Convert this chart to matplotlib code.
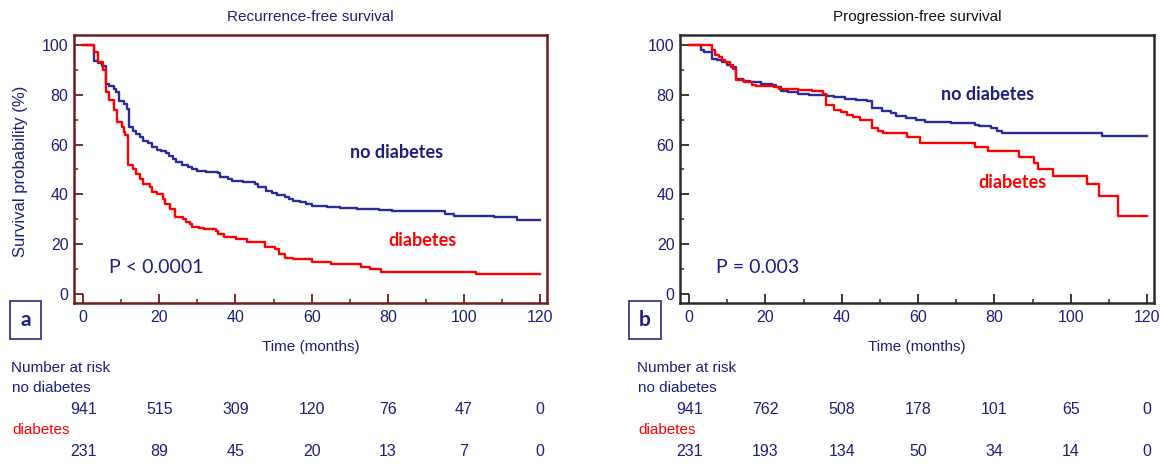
import matplotlib
matplotlib.use("Agg")
import matplotlib.pyplot as plt
import matplotlib.transforms as mtransforms
from matplotlib.patches import Rectangle
from matplotlib.ticker import MultipleLocator

# ---------------- data ----------------
# Recurrence-free survival (panel a)
rfs_nd_t = [0, 2.8, 4, 5, 6.1, 6.9, 8, 8.7, 9.5, 10.6, 11.5, 12.1, 13, 13.9, 15, 15.8, 17, 18.1,
            19.5, 20.5, 21.8, 22.6, 23.5, 24.3, 26, 27.5, 28.5, 30, 32.2, 35.5, 36, 38, 39, 42,
            43.5, 45, 45.8, 47.9, 49.6, 51, 53, 54, 55.2, 57, 58.5, 60, 63, 64, 67.4, 72, 77.7,
            81, 95.1, 97.5, 107.8, 113.9, 120]
rfs_nd_s = [100, 93.7, 92.8, 91.7, 84.3, 83.4, 82.3, 81, 77.6, 76.3, 74.3, 67, 65.6, 64.3, 63, 61.6,
            60.6, 59, 58, 57.3, 56.6, 55.6, 54.2, 52.9, 52, 51.1, 50.2, 49.5, 48.9, 48.5, 46.9,
            46.2, 45.5, 45.1, 44.8, 44.2, 42.8, 41.5, 40.6, 39.8, 38.8, 38.2, 37.5, 36.8, 36.1,
            35.5, 35.2, 34.8, 34.4, 34.1, 33.7, 33.5, 32.1, 31.5, 30.8, 29.7, 29.7]
rfs_d_t = [0, 2.8, 4, 5.3, 6.1, 6.9, 8, 8.9, 10.1, 10.6, 11, 11.8, 13, 13.9, 15, 15.8, 17.5, 18.1,
           19.5, 21, 21.6, 22.8, 24, 26.1, 27, 28, 28.5, 30.3, 31.7, 35, 35.5, 36.9, 40.2, 43,
           47.7, 50.5, 51.4, 52.9, 55.2, 60, 65.1, 73, 75.4, 78.2, 103.1, 120]
rfs_d_s = [100, 97, 93, 90, 81, 78, 74, 69, 67, 65, 64, 52, 50, 48, 46, 44, 43, 41, 40, 38, 36, 34,
           31, 30, 29, 28, 27, 26.5, 26, 25.5, 24, 23, 22, 21, 19, 18, 16, 14.5, 14, 13, 12, 11,
           10, 9, 8, 8]

# Progression-free survival (panel b)
pfs_nd_t = [0, 3.1, 4, 5.9, 7.4, 8.5, 9.8, 11, 12.2, 14, 16, 18.9, 21.7, 22.7, 24.1, 26, 28.4, 31.3,
            36, 38, 40.9, 43.7, 46.6, 48, 50.4, 52.8, 54.3, 56.7, 59.5, 61.9, 68.6, 72.4, 74.8,
            76, 79.1, 80.6, 82, 108.3, 120]
pfs_nd_s = [100, 98, 97, 94.5, 94, 93, 92, 91, 86.5, 85.5, 85, 84.5, 84, 83, 81.5, 81, 80.5, 80,
            79.5, 79, 78.5, 78, 77.5, 74.5, 73.5, 72.5, 71.5, 70.5, 70, 69, 68.8, 68.5, 68, 67.5,
            66.5, 65.5, 64.8, 63.5, 63.5]
pfs_d_t = [0, 5.9, 6.9, 7.8, 8.5, 9.5, 10.7, 11.5, 12.2, 14.5, 16.5, 17.4, 22.2, 23.6, 28.4, 32.2,
           35.1, 35.9, 38, 39.9, 41.3, 42.8, 44.7, 48, 49.5, 50.9, 57.1, 60.5, 74.8, 78.2, 86.3,
           90.4, 91.4, 95.4, 104.2, 107.4, 112.3, 120]
pfs_d_s = [100, 98, 96, 95, 94, 93, 92, 90.5, 86, 85, 84, 83.5, 83, 82.5, 82, 81.5, 80.5, 76, 74,
           73, 72, 71, 70, 66.5, 65.5, 64.5, 63, 60.5, 59, 57.5, 55, 52.5, 50, 47.5, 44, 39.5,
           31.5, 31.5]

risk_times = [0, 20, 40, 60, 80, 100, 120]
rfs_nd_risk = [941, 515, 309, 120, 76, 47, 0]
rfs_d_risk = [231, 89, 45, 20, 13, 7, 0]
pfs_nd_risk = [941, 762, 508, 178, 101, 65, 0]
pfs_d_risk = [231, 193, 134, 50, 34, 14, 0]

titles = ["Recurrence-free survival", "Progression-free survival"]
p_texts = ["P < 0.0001", "P = 0.003"]
panel_letters = ["a", "b"]

# ---------------- style ----------------
NAVY = "#1e1e7c"
BLUE = "#2b2b99"
RED = "#ff0000"
W, H = 1160, 466
ARIAL = "Liberation Sans"
CAL = "Lato"

fig = plt.figure(figsize=(W / 100, H / 100), dpi=100)
fig.patch.set_facecolor("white")


def fx(px):
    return px / W


def fy(py):
    return 1 - py / H


panels = [
    dict(x0=74, x1=547, spine="#6e1c1c", title_col=NAVY,
         t_nd=rfs_nd_t, s_nd=rfs_nd_s, t_d=rfs_d_t, s_d=rfs_d_s,
         r_nd=rfs_nd_risk, r_d=rfs_d_risk,
         nd_lab=(82.3, 57), d_lab=(89, 21.3), p_pos=(6.8, 10.8),
         text_x=11, box=(10, 41)),
    dict(x0=680, x1=1154, spine="#2a2a2a", title_col="#111111",
         t_nd=pfs_nd_t, s_nd=pfs_nd_s, t_d=pfs_d_t, s_d=pfs_d_s,
         r_nd=pfs_nd_risk, r_d=pfs_d_risk,
         nd_lab=(78.3, 80.3), d_lab=(84.8, 44.6), p_pos=(7.1, 10.8),
         text_x=637, box=(629, 661)),
]

y_top, y_bot = 35, 303

for i, p in enumerate(panels):
    ax = fig.add_axes([fx(p["x0"]), fy(y_bot), fx(p["x1"] - p["x0"]), (y_bot - y_top) / H])
    ax.set_xlim(-2.4, 121.8)
    ax.set_ylim(-3.6, 104.0)
    for sp in ax.spines.values():
        sp.set_color(p["spine"])
        sp.set_linewidth(1.8)
    ax.xaxis.set_major_locator(MultipleLocator(20))
    ax.xaxis.set_minor_locator(MultipleLocator(10))
    ax.yaxis.set_major_locator(MultipleLocator(20))
    ax.yaxis.set_minor_locator(MultipleLocator(10))
    ax.tick_params(which="major", direction="in", length=6.5, width=1.3, color=p["spine"],
                   labelsize=11.5, labelcolor=NAVY, top=False, right=False)
    ax.tick_params(which="minor", direction="in", length=3, width=1.1, color=p["spine"],
                   top=False, right=False)
    ax.tick_params(axis="x", pad=5)
    ax.tick_params(axis="y", pad=4)
    for lab in ax.get_xticklabels() + ax.get_yticklabels():
        lab.set_fontfamily(ARIAL)

    ax.step(p["t_nd"], p["s_nd"], where="post", color=BLUE, lw=1.7, zorder=3)
    ax.step(p["t_d"], p["s_d"], where="post", color=RED, lw=1.7, zorder=3)

    ax.text(*p["nd_lab"], "no diabetes", color=NAVY, fontsize=13, fontweight="bold",
            family=CAL, ha="center", va="center")
    ax.text(*p["d_lab"], "diabetes", color=RED, fontsize=13, fontweight="bold",
            family=CAL, ha="center", va="center")
    ax.text(*p["p_pos"], p_texts[i], color=NAVY, fontsize=14, family=CAL,
            ha="left", va="center")

    cx = (p["x0"] + p["x1"]) / 2
    fig.text(fx(cx), fy(17), titles[i], color=p["title_col"], fontsize=11, family=ARIAL,
             ha="center", va="center")
    fig.text(fx(cx), fy(347), "Time (months)", color=NAVY, fontsize=11, family=ARIAL,
             ha="center", va="center")

    # panel letter box
    bx0, bx1 = p["box"]
    fig.add_artist(Rectangle((fx(bx0), fy(339)), fx(bx1 - bx0), (339 - 301) / H,
                             transform=fig.transFigure, fill=False, edgecolor="#3a3a8c", lw=1.3))
    fig.text(fx((bx0 + bx1) / 2), fy(320), panel_letters[i], color=NAVY, fontsize=15,
             fontweight="bold", family=CAL, ha="center", va="center")

    # number at risk table
    tx = p["text_x"]
    fig.text(fx(tx), fy(368), "Number at risk", color=NAVY, fontsize=11, family=ARIAL,
             ha="left", va="center")
    fig.text(fx(tx + 1), fy(388), "no diabetes", color=NAVY, fontsize=11, family=ARIAL,
             ha="left", va="center")
    fig.text(fx(tx + 1), fy(430), "diabetes", color=RED, fontsize=11, family=ARIAL,
             ha="left", va="center")
    trans = mtransforms.blended_transform_factory(ax.transData, fig.transFigure)
    for t, n1, n2 in zip(risk_times, p["r_nd"], p["r_d"]):
        ax.text(t, fy(410), str(n1), transform=trans, color=NAVY, fontsize=11.5, family=ARIAL,
                ha="center", va="center", clip_on=False)
        ax.text(t, fy(452), str(n2), transform=trans, color=NAVY, fontsize=11.5, family=ARIAL,
                ha="center", va="center", clip_on=False)

fig.text(fx(21), fy(171), "Survival probability (%)", color=NAVY, fontsize=12, family=ARIAL,
         rotation=90, ha="center", va="center")

fig.savefig("out.png", dpi=100, facecolor="white")
